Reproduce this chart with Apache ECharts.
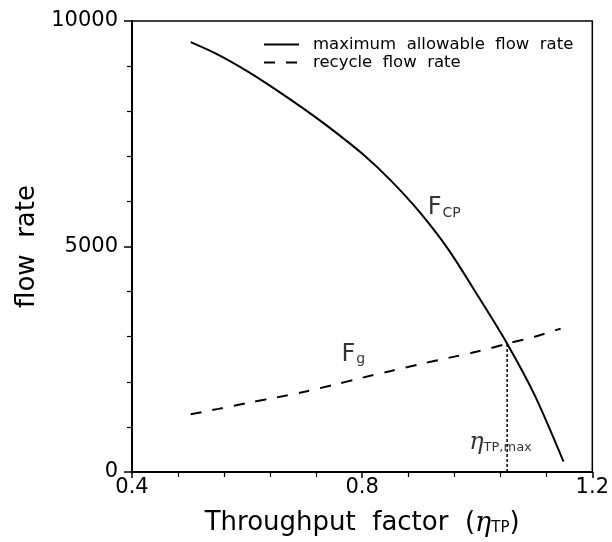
<!DOCTYPE html>
<html><head><meta charset="utf-8">
<script src="https://cdn.jsdelivr.net/npm/echarts@6/dist/echarts.min.js"></script>
<style>html,body{margin:0;padding:0;background:#fff}#c{width:612px;height:542px}</style>
</head><body><div id="c"></div>
<script>
// Maximum allowable flow rate (F_CP), solid
const fcpX = [0.502,0.55,0.60,0.65,0.70,0.75,0.80,0.85,0.90,0.95,1.00,1.052,1.10,1.150];
const fcpY = [9530,9250,8890,8480,8040,7570,7060,6460,5760,4930,3930,2846,1700,230];
// Recycle flow rate (F_g), dashed
const fgX = [0.502,0.55,0.60,0.65,0.70,0.75,0.80,0.85,0.90,0.95,1.00,1.052,1.10,1.145];
const fgY = [1280,1400,1530,1650,1780,1930,2090,2240,2390,2530,2670,2846,3000,3180];
// Intersection marker (eta_TP,max)
const etaMaxX = [1.052,1.052];
const etaMaxY = [0,2846];
const xTicks = [0.4,0.8,1.2];
const yTicks = [0,5000,10000];
const seriesNames = ['maximum  allowable  flow  rate','recycle  flow  rate'];
// Annotation anchors (data coords)
const annotations = [
  {x:0.914, y:5850, text:'{a|F}{b|CP}'},
  {x:0.764, y:2600, text:'{a|F}{b|g}'},
  {x:0.986, y:640, text:'{e|η}{s|TP,max}'}
];

const zip = (xs, ys) => xs.map((x,i)=>[x, ys[i]]);
const chart = echarts.init(document.getElementById('c'));
const FONT = 'DejaVu Sans';
chart.setOption({
  animation:false,
  backgroundColor:'#fff',
  textStyle:{fontFamily:FONT,color:'#000'},
  grid:{left:132,right:15,top:21,bottom:51,show:true,borderColor:'#000',borderWidth:1.5,containLabel:false},
  legend:{
    data:seriesNames.map(n=>({name:n,itemStyle:{opacity:0}})),
    orient:'vertical',left:258,top:31,itemGap:1,itemWidth:35,itemHeight:14,
    itemStyle:{opacity:0},
    textStyle:{fontFamily:FONT,fontSize:16.5,color:'#000',padding:[0,0,0,9]}
  },
  xAxis:{
    type:'value',min:xTicks[0],max:xTicks[xTicks.length-1],interval:0.4,
    axisLine:{show:true,onZero:false,lineStyle:{color:'#000',width:2}},
    axisTick:{show:true,inside:false,length:6,lineStyle:{color:'#000',width:1.5}},
    minorTick:{show:true,splitNumber:5,length:5,lineStyle:{color:'#000',width:1.2}},
    splitLine:{show:false},
    axisLabel:{fontSize:21,color:'#000',margin:5,fontFamily:FONT,formatter:v=>String(v)},
    name:'{t|Throughput  factor  (}{e|η}{s|TP}{t|)}',
    nameLocation:'middle',nameGap:38,
    nameTextStyle:{rich:{
      t:{fontSize:26,fontFamily:FONT,color:'#000'},
      e:{fontSize:27,fontFamily:'DejaVu Serif',fontStyle:'italic',color:'#000'},
      s:{fontSize:15,fontFamily:FONT,color:'#000',padding:[10,0,0,0]}
    }}
  },
  yAxis:{
    type:'value',min:yTicks[0],max:yTicks[yTicks.length-1],interval:5000,
    axisLine:{show:true,onZero:false,lineStyle:{color:'#000',width:2}},
    axisTick:{show:true,inside:false,length:8,lineStyle:{color:'#000',width:1.5}},
    minorTick:{show:true,splitNumber:5,length:5,lineStyle:{color:'#000',width:1.2}},
    splitLine:{show:false},
    axisLabel:{fontSize:21,color:'#000',margin:14,fontFamily:FONT,formatter:v=>String(v)},
    name:'flow  rate',nameLocation:'middle',nameGap:92,
    nameTextStyle:{fontSize:26,fontFamily:FONT,color:'#000'}
  },
  series:[
    {name:seriesNames[0],type:'line',smooth:0.3,showSymbol:false,symbol:'none',
     data:zip(fcpX,fcpY),lineStyle:{color:'#000',width:2,type:'solid'},itemStyle:{color:'#000'}},
    {name:seriesNames[1],type:'line',smooth:0.3,showSymbol:false,symbol:'none',
     data:zip(fgX,fgY),lineStyle:{color:'#000',width:2,type:[11,11]},itemStyle:{color:'#000'}},
    {name:'etaMax',type:'line',showSymbol:false,symbol:'none',
     data:zip(etaMaxX,etaMaxY),lineStyle:{color:'#000',width:1.5,type:[3,2]}},
    {name:'labels',type:'scatter',symbolSize:0,silent:true,
     data:annotations.map(a=>({value:[a.x,a.y],label:{formatter:a.text}})),
     label:{show:true,position:'right',distance:0,color:'#000',
       rich:{
         a:{fontSize:24,fontFamily:FONT,color:'#000'},
         b:{fontSize:14,fontFamily:FONT,color:'#000',padding:[10,0,0,1]},
         e:{fontSize:24,fontFamily:'DejaVu Serif',fontStyle:'italic',color:'#000'},
         s:{fontSize:13,fontFamily:FONT,color:'#000',padding:[8,0,0,0]}
       }}}
  ]
});
</script></body></html>
